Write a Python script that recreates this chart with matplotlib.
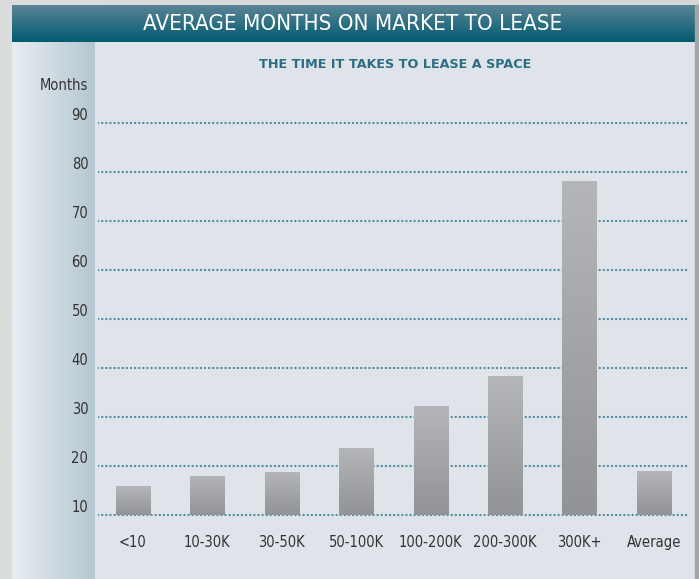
import numpy as np
import matplotlib
matplotlib.use("Agg")
import matplotlib.pyplot as plt
from matplotlib import font_manager

# data
categories = ["<10", "10-30K", "30-50K", "50-100K", "100-200K", "200-300K", "300K+", "Average"]
months = [15.9, 18.0, 18.8, 23.7, 32.2, 38.4, 78.2, 19.0]
y_ticks = [10, 20, 30, 40, 50, 60, 70, 80, 90]
baseline = 10

title = "AVERAGE MONTHS ON MARKET TO LEASE"
subtitle = "THE TIME IT TAKES TO LEASE A SPACE"

# condensed face if one is installed
names = {f.name for f in font_manager.fontManager.ttflist}
if "Liberation Sans Narrow" in names:
    narrow = dict(family="Liberation Sans Narrow")
else:
    narrow = dict(family="DejaVu Sans", stretch="condensed")

W, H = 699, 579
fig = plt.figure(figsize=(W / 100, H / 100), dpi=100)

# background decoration in pixel coordinates
bg = fig.add_axes([0, 0, 1, 1])
bg.set_xlim(0, W)
bg.set_ylim(H, 0)
bg.axis("off")


def grad(ax, extent, c0, c1, horizontal=False, z=1):
    c0 = np.array(matplotlib.colors.to_rgb(c0))
    c1 = np.array(matplotlib.colors.to_rgb(c1))
    t = np.linspace(0, 1, 256)
    img = c0[None, :] * (1 - t[:, None]) + c1[None, :] * t[:, None]
    img = img[None, :, :] if horizontal else img[:, None, :]
    ax.imshow(img, extent=extent, aspect="auto", interpolation="bilinear", zorder=z)


grad(bg, (0, W, H, 0), "#dcdedd", "#d4d7d6", horizontal=True, z=0)
bg.add_patch(plt.Rectangle((12, 5), 683, H - 5, color="#dfe3ea", zorder=1))
grad(bg, (12, 695, 42, 5), "#5b8595", "#005a70", z=2)
grad(bg, (12, 95, H, 42), "#e9edf2", "#b5c7d1", horizontal=True, z=2)
bg.add_patch(plt.Rectangle((695, 5), 4, H - 5, color="#a3a5a6", zorder=2))
bg.set_xlim(0, W)
bg.set_ylim(H, 0)

bg.text(353, 24, title, color="white", fontsize=16, ha="center", va="center",
        zorder=5, **narrow)
bg.text(395, 65, subtitle, color="#2c6d82", fontsize=9.2, family="DejaVu Sans",
        fontweight="bold", ha="center", va="center", zorder=5)
bg.text(88, 86, "Months", color="#333333", fontsize=10.5, ha="right", va="center",
        zorder=5, **narrow)

# chart area: 49 px per 10 months, 90 at y=123
px_per = 4.9
y_lo, y_hi = 9, 91
top_px = 123 - (y_hi - 90) * px_per
bot_px = 123 + (90 - y_lo) * px_per
ax = fig.add_axes([98 / W, 1 - bot_px / H, 592 / W, (bot_px - top_px) / H])
ax.patch.set_alpha(0)
for s in ax.spines.values():
    s.set_visible(False)

x = np.arange(len(categories))

for yv in y_ticks:
    ax.axhline(yv, color="#4b8a9e", linewidth=1.6, linestyle=(0, (0.1, 1.75)),
               dash_capstyle="round", zorder=1)

heights = [m - baseline for m in months]
bars = ax.bar(x, heights, bottom=baseline, width=0.457, color="#a4a5a8", zorder=2)
gimg = np.linspace(0, 1, 256)[:, None]
cmap = matplotlib.colors.LinearSegmentedColormap.from_list("bar", ["#929396", "#b5b6ba"])
for b in bars:
    x0, y0 = b.get_x(), b.get_y()
    im = ax.imshow(gimg, extent=(x0, x0 + b.get_width(), y0 + b.get_height(), y0),
                   aspect="auto", cmap=cmap, zorder=3, interpolation="bilinear")
    im.set_clip_path(b)
ax.set_xlim(-0.47, 7.487)
ax.set_ylim(y_lo, y_hi)

ax.set_yticks(y_ticks)
ax.set_yticklabels([str(v) for v in y_ticks])
ax.set_xticks(x)
ax.set_xticklabels(categories)
ax.tick_params(axis="y", length=0, pad=7, labelsize=10.5, labelcolor="#333333")
ax.tick_params(axis="x", length=0, pad=11, labelsize=10.5, labelcolor="#333333")
for lab in ax.get_xticklabels() + ax.get_yticklabels():
    lab.set_family(narrow["family"])
    if "stretch" in narrow:
        lab.set_stretch(narrow["stretch"])
for lab in ax.get_yticklabels():
    lab.set_verticalalignment("bottom")

fig.savefig("out.png", dpi=100)
